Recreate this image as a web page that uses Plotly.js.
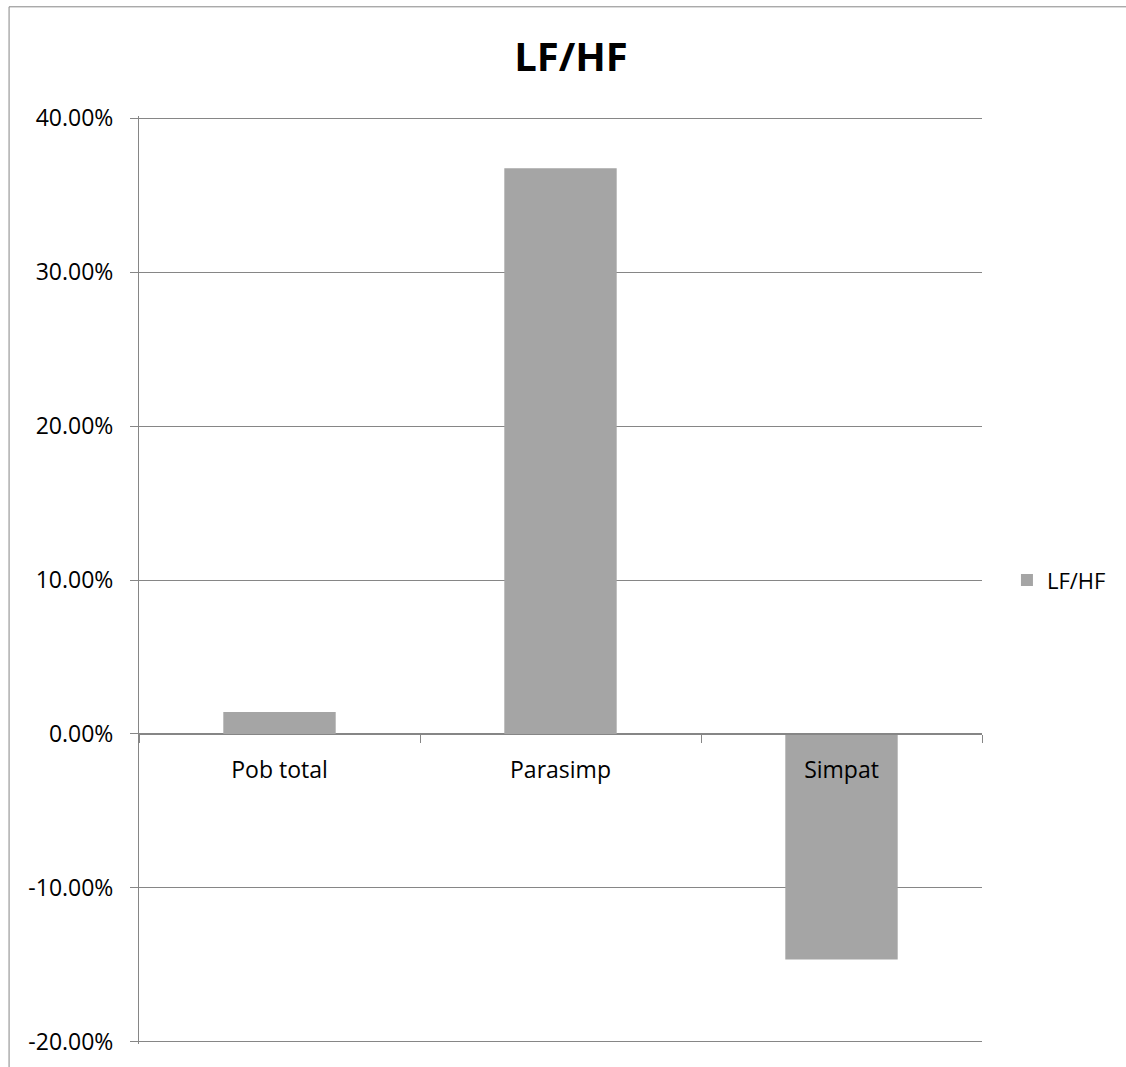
<!DOCTYPE html>
<html>
<head>
<meta charset="utf-8">
<script src="https://cdn.plot.ly/plotly-3.0.1.min.js"></script>
<style>
  html, body { margin: 0; padding: 0; background: #ffffff; }
  #chart { width: 1126px; height: 1067px; }
</style>
</head>
<body>
<div id="chart"></div>
<script>
// LF/HF change per group
const categories = ['Pob total', 'Parasimp', 'Simpat'];
const lfhfValues = [0.0143, 0.3676, -0.1466];
const seriesName = 'LF/HF';
const yTickValues = [-0.2, -0.1, 0, 0.1, 0.2, 0.3, 0.4];
const yTickLabels = ['-20.00%', '-10.00%', '0.00%', '10.00%', '20.00%', '30.00%', '40.00%'];

const gridGrey = '#868686';
const barGrey = '#a5a5a5';
const fontFamily = '"Open Sans", "Noto Sans", sans-serif';

// small padding so the end gridlines (-20% and 40%) are not dropped at the plot edges
const pad = 0.0015;
const yMin = yTickValues[0] - pad;
const yMax = yTickValues[yTickValues.length - 1] + pad;

const trace = {
  type: 'bar',
  x: categories,
  y: lfhfValues,
  name: seriesName,
  marker: { color: barGrey, line: { width: 0 } },
  showlegend: true,
  hoverinfo: 'x+y'
};

const marginT = 115.7;
const marginB = 23.2;
const plotH = 1067 - marginT - marginB;

const layout = {
  width: 1126,
  height: 1067,
  paper_bgcolor: '#ffffff',
  plot_bgcolor: '#ffffff',
  margin: { l: 138.5, r: 144, t: marginT, b: marginB, pad: 0, autoexpand: false },
  font: { family: fontFamily, size: 23, color: '#000000' },
  title: {
    text: '<b>LF/HF</b>',
    font: { family: fontFamily, size: 40, color: '#000000' },
    x: 571 / 1126,
    xref: 'container',
    xanchor: 'center',
    y: 1 - 57 / 1067,
    yref: 'container',
    yanchor: 'middle'
  },
  bargap: 0.6,
  xaxis: {
    type: 'category',
    anchor: 'free',
    position: (0 - yMin) / (yMax - yMin),
    showline: true,
    linecolor: gridGrey,
    linewidth: 1,
    ticks: 'outside',
    tickson: 'boundaries',
    ticklen: 8,
    tickcolor: gridGrey,
    showgrid: false,
    zeroline: false,
    ticklabelstandoff: 16,
    tickfont: { family: fontFamily, size: 23, color: '#000000' },
    fixedrange: true
  },
  yaxis: {
    range: [yMin, yMax],
    tickmode: 'array',
    tickvals: yTickValues,
    ticktext: yTickLabels,
    showline: true,
    linecolor: gridGrey,
    linewidth: 1,
    ticks: 'outside',
    ticklen: 8,
    tickcolor: gridGrey,
    showgrid: true,
    gridcolor: gridGrey,
    gridwidth: 1,
    zeroline: false,
    ticklabelstandoff: 12,
    tickfont: { family: fontFamily, size: 23, color: '#000000' },
    fixedrange: true
  },
  legend: {
    x: 1.0296,
    xanchor: 'left',
    y: (1067 - marginB - 580) / plotH,
    yanchor: 'middle',
    font: { family: fontFamily, size: 22, color: '#000000' },
    bgcolor: 'rgba(0,0,0,0)',
    itemwidth: 30
  },
  shapes: [{
    type: 'rect',
    xref: 'paper',
    yref: 'paper',
    x0: (8.5 - 138.5) / 843.5,
    x1: 1.6,
    y0: -0.2,
    y1: (1067 - marginB - 6.5) / plotH,
    line: { color: gridGrey, width: 1 },
    fillcolor: 'rgba(0,0,0,0)',
    layer: 'below'
  }]
};

Plotly.newPlot('chart', [trace], layout, { displayModeBar: false, staticPlot: true });
</script>
</body>
</html>
